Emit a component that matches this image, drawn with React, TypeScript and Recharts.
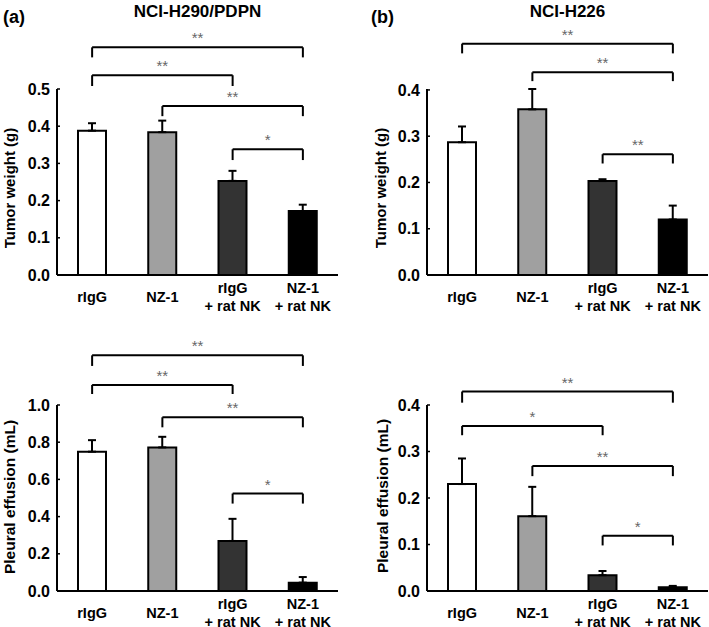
import { BarChart, Bar, Cell, XAxis, YAxis, ErrorBar, ReferenceLine } from 'recharts';

const FONT = '"Liberation Sans", Arial, sans-serif';

// groups and fills shared by all four panels
const groups = ['rIgG', 'NZ-1', 'rIgG\n+ rat NK', 'NZ-1\n+ rat NK'];
const groupFills = ['#ffffff', '#a0a0a0', '#333333', '#000000'];

// NCI-H290/PDPN
const weightH290 = [0.388, 0.384, 0.253, 0.172];
const weightH290Err = [0.02, 0.031, 0.027, 0.017];
const effusionH290 = [0.749, 0.772, 0.269, 0.045];
const effusionH290Err = [0.062, 0.057, 0.119, 0.03];

// NCI-H226
const weightH226 = [0.287, 0.358, 0.203, 0.12];
const weightH226Err = [0.034, 0.044, 0.004, 0.03];
const effusionH226 = [0.23, 0.161, 0.034, 0.008];
const effusionH226Err = [0.055, 0.063, 0.009, 0.003];

// axis ticks
const ticksHalf = [0, 0.1, 0.2, 0.3, 0.4, 0.5];
const ticksOne = [0, 0.2, 0.4, 0.6, 0.8, 1.0];
const ticksFour = [0, 0.1, 0.2, 0.3, 0.4];

// significance brackets: [from group, to group, bar level, foot level, stars]
type Bracket = [number, number, number, number, string];
const bracketsWeightH290: Bracket[] = [
  [0, 3, 0.612, 0.585, '**'],
  [0, 2, 0.537, 0.508, '**'],
  [1, 3, 0.454, 0.427, '**'],
  [2, 3, 0.338, 0.309, '*'],
];
const bracketsEffusionH290: Bracket[] = [
  [0, 3, 1.267, 1.21, '**'],
  [0, 2, 1.108, 1.059, '**'],
  [1, 3, 0.934, 0.88, '**'],
  [2, 3, 0.524, 0.47, '*'],
];
const bracketsWeightH226: Bracket[] = [
  [0, 3, 0.5, 0.479, '**'],
  [1, 3, 0.438, 0.419, '**'],
  [2, 3, 0.261, 0.241, '**'],
];
const bracketsEffusionH226: Bracket[] = [
  [0, 3, 0.429, 0.405, '**'],
  [0, 2, 0.355, 0.335, '*'],
  [1, 3, 0.269, 0.247, '**'],
  [2, 3, 0.119, 0.098, '*'],
];

function GroupTick({ x, y, payload }: any) {
  const lines = String(payload.value).split('\n');
  const first = lines.length === 1 ? 27 : 18;
  return (
    <text textAnchor="middle" fontFamily={FONT} fontSize={14.5} fontWeight="bold" fill="#000">
      {lines.map((l, i) => (
        <tspan key={i} x={x} y={y + first + i * 18}>
          {l}
        </tspan>
      ))}
    </text>
  );
}

interface PanelProps {
  values: number[];
  errors: number[];
  ticks: number[];
  brackets: Bracket[];
  left: number;
  top: number;
  width: number;
  height: number;
  axisWidth: number;
  marginRight: number;
  marginBottom: number;
}

function Panel({
  values,
  errors,
  ticks,
  brackets,
  left,
  top,
  width,
  height,
  axisWidth,
  marginRight,
  marginBottom,
}: PanelProps) {
  const data = groups.map((g, i) => ({ group: g, value: values[i], err: [0, errors[i]] }));
  const max = ticks[ticks.length - 1];

  return (
    <div style={{ position: 'absolute', left, top }}>
      <BarChart
        width={width}
        height={height}
        data={data}
        margin={{ top: 89, right: marginRight, bottom: marginBottom, left: 0 }}
      >
        <XAxis
          dataKey="group"
          height={36}
          tick={<GroupTick />}
          tickLine={false}
          tickSize={0}
          tickMargin={0}
          axisLine={{ stroke: '#000', strokeWidth: 2 }}
          interval={0}
        />
        <YAxis
          width={axisWidth}
          domain={[0, max]}
          ticks={ticks}
          tickFormatter={(v: number) => v.toFixed(1)}
          tick={{ fill: '#000', fontSize: 16, fontWeight: 'bold', fontFamily: FONT }}
          tickSize={-3}
          tickMargin={10}
          tickLine={{ stroke: '#000', strokeWidth: 1.5 }}
          axisLine={{ stroke: '#000', strokeWidth: 2 }}
        />
        <Bar dataKey="value" barSize={28} stroke="#000" strokeWidth={2} isAnimationActive={false}>
          {data.map((d, i) => (
            <Cell key={d.group} fill={groupFills[i]} />
          ))}
          <ErrorBar dataKey="err" direction="y" width={4} stroke="#000" strokeWidth={2} />
        </Bar>
        {brackets.map(([a, b, yTop, yFoot, stars], i) => [
          <ReferenceLine
            key={`h${i}`}
            segment={[
              { x: groups[a], y: yTop },
              { x: groups[b], y: yTop },
            ]}
            stroke="#000"
            strokeWidth={2}
            ifOverflow="visible"
            label={{ value: stars, position: 'top', offset: 4, fill: '#666', fontSize: 15, fontFamily: FONT }}
          />,
          <ReferenceLine
            key={`l${i}`}
            segment={[
              { x: groups[a], y: yTop },
              { x: groups[a], y: yFoot },
            ]}
            stroke="#000"
            strokeWidth={2}
            ifOverflow="visible"
          />,
          <ReferenceLine
            key={`r${i}`}
            segment={[
              { x: groups[b], y: yTop },
              { x: groups[b], y: yFoot },
            ]}
            stroke="#000"
            strokeWidth={2}
            ifOverflow="visible"
          />,
        ])}
      </BarChart>
    </div>
  );
}

export default function App() {
  return (
    <div
      style={{
        position: 'absolute',
        left: 0,
        top: 0,
        width: 709,
        height: 627,
        overflow: 'hidden',
        background: '#fff',
        fontFamily: FONT,
      }}
    >
      <Panel values={weightH290} errors={weightH290Err} ticks={ticksHalf} brackets={bracketsWeightH290}
        left={0} top={0} width={354} height={316} axisWidth={57} marginRight={16} marginBottom={5} />
      <Panel values={effusionH290} errors={effusionH290Err} ticks={ticksOne} brackets={bracketsEffusionH290}
        left={0} top={316} width={354} height={311} axisWidth={57} marginRight={16} marginBottom={0} />
      <Panel values={weightH226} errors={weightH226Err} ticks={ticksFour} brackets={bracketsWeightH226}
        left={354} top={0} width={355} height={316} axisWidth={73} marginRight={1} marginBottom={5} />
      <Panel values={effusionH226} errors={effusionH226Err} ticks={ticksFour} brackets={bracketsEffusionH226}
        left={354} top={316} width={355} height={311} axisWidth={73} marginRight={1} marginBottom={0} />
      <svg
        width={709}
        height={627}
        style={{ position: 'absolute', left: 0, top: 0, pointerEvents: 'none' }}
        fontFamily={FONT}
        fontWeight="bold"
        fill="#000"
      >
        <text x={3} y={23} fontSize={18}>(a)</text>
        <text x={371} y={23} fontSize={18}>(b)</text>
        <text x={197.5} y={17} fontSize={17} textAnchor="middle">NCI-H290/PDPN</text>
        <text x={567.5} y={17} fontSize={17} textAnchor="middle">NCI-H226</text>
        <text transform="translate(15,188) rotate(-90)" fontSize={15} textAnchor="middle">Tumor weight (g)</text>
        <text transform="translate(15,497) rotate(-90)" fontSize={15.5} textAnchor="middle">Pleural effusion (mL)</text>
        <text transform="translate(386,188) rotate(-90)" fontSize={15} textAnchor="middle">Tumor weight (g)</text>
        <text transform="translate(388,496) rotate(-90)" fontSize={15.5} textAnchor="middle">Pleural effusion (mL)</text>
      </svg>
    </div>
  );
}
